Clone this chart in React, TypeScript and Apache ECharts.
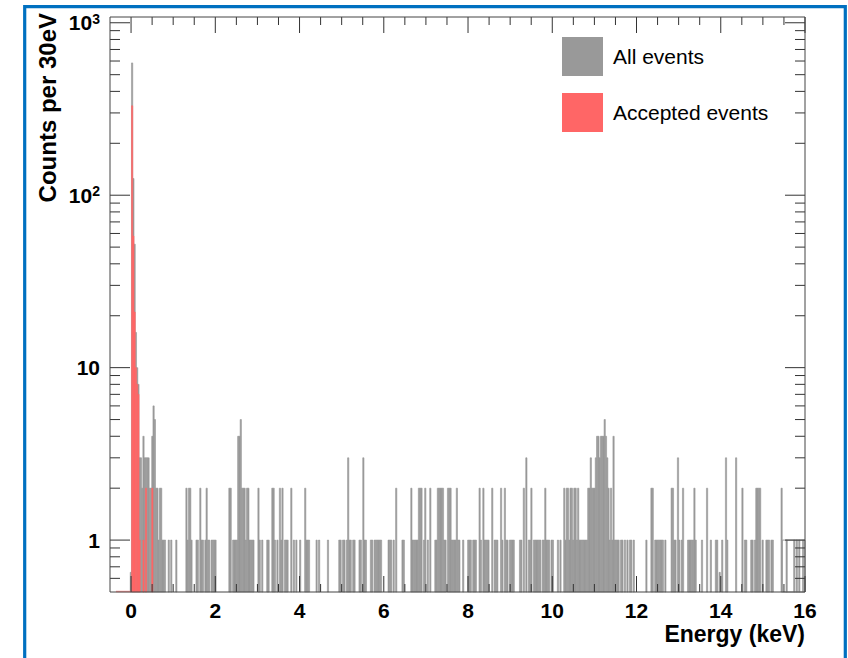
import { useEffect, useRef } from 'react';
import * as echarts from 'echarts';

const FONT = '"Liberation Sans", Arial, Helvetica, sans-serif';
const GRAY = '#999999';
const RED = '#ff6666';
const BLUE = '#0070c0';

// Histogram binning (30 eV bins)
const HIST_MIN = -0.5;
const BIN_WIDTH = 0.03;

// Axis ranges
const X_MIN = -0.5;
const X_MAX = 16;
const Y_MIN = 0.5;
const Y_MAX = 1080;

// Tick values
const xMajorTicks = [0, 2, 4, 6, 8, 10, 12, 14, 16];
const xMinorTicks = [0.5, 1, 1.5, 2.5, 3, 3.5, 4.5, 5, 5.5, 6.5, 7, 7.5, 8.5, 9, 9.5, 10.5, 11, 11.5, 12.5, 13, 13.5, 14.5, 15, 15.5];
const yMajorTicks = [1, 10, 100, 1000];
const yMinorTicks = [0.6, 0.7, 0.8, 0.9, 2, 3, 4, 5, 6, 7, 8, 9, 20, 30, 40, 50, 60, 70, 80, 90, 200, 300, 400, 500, 600, 700, 800, 900];

// All events: [bin index, counts]
const allEventsBelow3keV = [
  [16, 0.65], [17, 585], [18, 125], [19, 52], [20, 16], [21, 10], [22, 8], [23, 3], [24, 3], [25, 2],
  [26, 4], [27, 3], [28, 3], [29, 3], [30, 3], [31, 2], [32, 2], [33, 4], [34, 6], [35, 5], [36, 2],
  [37, 2], [38, 1], [39, 2], [40, 2], [41, 1], [42, 1], [43, 1], [46, 1], [48, 1], [52, 1], [60, 2],
  [61, 1], [62, 2], [63, 2], [64, 1], [68, 1], [69, 1], [71, 2], [72, 1], [73, 1], [75, 1], [76, 2],
  [77, 1], [78, 1], [80, 1], [81, 1], [82, 1], [83, 1], [94, 2], [95, 2], [97, 1], [98, 1], [99, 1],
  [100, 1], [101, 4], [102, 4], [103, 5], [104, 2], [105, 2], [106, 2], [107, 1], [108, 2], [109, 2],
  [110, 1], [111, 1], [112, 1], [113, 1],
];
const allEvents3to7keV = [
  [117, 2], [118, 1], [120, 1], [124, 1], [125, 1], [128, 2], [129, 2], [130, 1], [132, 1], [134, 2],
  [135, 1], [136, 2], [138, 1], [139, 1], [140, 1], [143, 2], [145, 1], [147, 1], [150, 1], [154, 2],
  [155, 1], [156, 1], [157, 1], [163, 1], [165, 1], [172, 1], [181, 1], [182, 1], [184, 1], [185, 1],
  [187, 1], [188, 3], [189, 1], [190, 1], [192, 1], [193, 1], [197, 1], [198, 1], [200, 3], [201, 1],
  [202, 1], [206, 1], [207, 1], [209, 1], [210, 1], [211, 1], [212, 1], [213, 1], [214, 1], [220, 1],
  [221, 1], [222, 1], [224, 1], [226, 2], [231, 1], [232, 1], [238, 2], [239, 1], [240, 1], [241, 1],
  [242, 1], [243, 1], [244, 2], [245, 2], [246, 2], [248, 1], [249, 2],
];
const allEvents7to11keV = [
  [251, 1], [253, 2], [257, 1], [258, 1], [259, 2], [260, 2], [261, 2], [262, 2], [263, 2], [264, 1],
  [265, 1], [267, 2], [268, 2], [269, 2], [270, 1], [271, 1], [272, 1], [273, 1], [274, 2], [275, 1],
  [276, 1], [279, 1], [283, 1], [284, 1], [285, 1], [287, 1], [288, 1], [289, 1], [292, 2], [293, 1],
  [295, 2], [296, 1], [297, 1], [298, 1], [299, 1], [302, 2], [304, 1], [305, 1], [306, 1], [309, 2],
  [310, 1], [312, 2], [313, 1], [314, 1], [316, 1], [317, 1], [318, 1], [319, 1], [324, 1], [325, 1],
  [327, 2], [329, 3], [331, 1], [332, 1], [333, 2], [335, 1], [336, 1], [337, 1], [338, 1], [339, 1],
  [340, 1], [342, 1], [343, 1], [344, 2], [345, 1], [346, 1], [347, 1], [349, 1], [350, 1], [354, 1],
  [356, 1], [359, 2], [360, 1], [361, 2], [362, 2], [363, 1], [364, 2], [365, 2], [366, 1], [367, 2],
  [368, 2], [369, 1], [370, 2], [371, 1], [372, 1], [373, 1], [374, 1], [375, 1], [376, 1], [377, 1],
  [378, 2], [379, 2], [380, 3], [381, 2], [382, 2], [383, 2],
];
const allEventsAbove11keV = [
  [384, 3], [385, 4], [386, 4], [387, 3], [388, 4], [389, 4], [390, 4], [391, 5], [392, 4], [393, 3],
  [394, 2], [395, 1], [396, 2], [397, 1], [398, 4], [399, 1], [400, 1], [401, 1], [402, 1], [404, 1],
  [405, 1], [407, 1], [409, 1], [411, 1], [412, 1], [414, 1], [424, 1], [428, 2], [429, 2], [431, 1],
  [432, 1], [433, 1], [434, 1], [435, 1], [436, 1], [437, 1], [439, 1], [444, 2], [445, 2], [446, 1],
  [447, 1], [449, 3], [450, 1], [452, 1], [453, 2], [457, 1], [458, 1], [459, 1], [460, 1], [461, 1],
  [462, 2], [463, 1], [468, 1], [472, 2], [475, 1], [479, 1], [480, 1], [482, 0.65], [484, 1], [487, 3],
  [488, 1], [495, 3], [500, 2], [502, 1], [503, 1], [507, 1], [508, 1], [510, 1], [511, 2], [512, 2],
  [513, 2], [514, 2], [516, 1], [519, 1], [520, 1], [521, 1], [523, 1], [524, 1], [531, 2], [535, 1],
  [541, 1], [543, 1], [545, 1], [548, 1],
];
// Unfilled outline at the end of the spectrum: [first bin, last bin + 1, level]
const allEventsOutline = [532, 550, 1];

// Accepted events: [bin index, counts]
const acceptedEvents = [
  [17, 330], [18, 58], [19, 21], [20, 10], [21, 8], [22, 7], [23, 1], [26, 1], [28, 2], [33, 2],
];
// Zero-level outline of the accepted histogram (keV)
const acceptedZeroLine = [-0.36, 0];

const toPoints = (pairs: number[][]) => pairs.map(([k, n]) => [HIST_MIN + k * BIN_WIDTH, n]);

function barItem(color: string, strokeWidth: number) {
  return (_params: any, api: any) => {
    const lo = api.value(0);
    const n = api.value(1);
    const a = api.coord([lo, n]);
    const b = api.coord([lo + BIN_WIDTH, Y_MIN]);
    return {
      type: 'rect',
      shape: { x: a[0], y: a[1], width: b[0] - a[0], height: b[1] - a[1] },
      style: { fill: color, stroke: color, lineWidth: strokeWidth },
      silent: true,
    };
  };
}

const TICK_COLOR = '#333';

function xTickItem(_params: any, api: any) {
  const v = api.value(0);
  const len = api.value(2) ? 16 : 8;
  const b = api.coord([v, Y_MIN]);
  const t = api.coord([v, Y_MAX]);
  return {
    type: 'group',
    silent: true,
    children: [
      { type: 'line', shape: { x1: b[0], y1: b[1], x2: b[0], y2: b[1] - len }, style: { stroke: TICK_COLOR, lineWidth: 1 } },
      { type: 'line', shape: { x1: t[0], y1: t[1], x2: t[0], y2: t[1] + len }, style: { stroke: TICK_COLOR, lineWidth: 1 } },
    ],
  };
}

function yTickItem(_params: any, api: any) {
  const v = api.value(1);
  const len = api.value(2) ? 20 : 10;
  const l = api.coord([X_MIN, v]);
  const r = api.coord([X_MAX, v]);
  return {
    type: 'group',
    silent: true,
    children: [
      { type: 'line', shape: { x1: l[0], y1: l[1], x2: l[0] + len, y2: l[1] }, style: { stroke: TICK_COLOR, lineWidth: 1 } },
      { type: 'line', shape: { x1: r[0], y1: r[1], x2: r[0] - len, y2: r[1] }, style: { stroke: TICK_COLOR, lineWidth: 1 } },
    ],
  };
}

function frameItem(_params: any, api: any) {
  const a = api.coord([X_MIN, Y_MAX]);
  const b = api.coord([X_MAX, Y_MIN]);
  return {
    type: 'rect',
    silent: true,
    shape: { x: a[0], y: a[1], width: b[0] - a[0], height: b[1] - a[1] },
    style: { fill: 'none', stroke: '#444', lineWidth: 1 },
  };
}

function outlineItem(_params: any, api: any) {
  const a = api.coord([HIST_MIN + api.value(0) * BIN_WIDTH, api.value(2)]);
  const b = api.coord([HIST_MIN + api.value(1) * BIN_WIDTH, Y_MIN]);
  return {
    type: 'rect',
    silent: true,
    shape: { x: a[0], y: a[1], width: b[0] - a[0], height: b[1] - a[1] },
    style: { fill: 'none', stroke: GRAY, lineWidth: 1 },
  };
}

function zeroLineItem(_params: any, api: any) {
  const a = api.coord([api.value(0), Y_MIN]);
  const b = api.coord([api.value(1), Y_MIN]);
  return {
    type: 'line',
    silent: true,
    shape: { x1: a[0], y1: a[1] - 0.5, x2: b[0], y2: b[1] - 0.5 },
    style: { stroke: '#ff9a9a', lineWidth: 1.5 },
  };
}

const allData = [
  ...toPoints(allEventsBelow3keV),
  ...toPoints(allEvents3to7keV),
  ...toPoints(allEvents7to11keV),
  ...toPoints(allEventsAbove11keV),
];
const acceptedData = toPoints(acceptedEvents);

const option: any = {
  animation: false,
  backgroundColor: '#ffffff',
  grid: { left: 110, top: 17, width: 695, height: 575, show: false },
  legend: {
    data: ['All events', 'Accepted events'],
    orient: 'vertical',
    left: 557,
    top: 32,
    itemWidth: 41,
    itemHeight: 39,
    itemGap: 17,
    icon: 'rect',
    selectedMode: false,
    textStyle: { fontSize: 21, fontFamily: FONT, color: '#000', padding: [0, 0, 0, 5] },
  },
  xAxis: {
    type: 'value',
    min: X_MIN,
    max: X_MAX,
    interval: 0.5,
    axisLine: { show: false },
    axisTick: { show: false },
    splitLine: { show: false },
    axisLabel: {
      interval: 0,
      margin: 10,
      fontSize: 21,
      lineHeight: 16,
      fontWeight: 'bold',
      fontFamily: FONT,
      color: '#000',
      formatter: (v: number) => (Math.abs(v / 2 - Math.round(v / 2)) < 1e-6 ? String(Math.round(v)) : ''),
    },
  },
  yAxis: {
    type: 'log',
    logBase: 10,
    min: Y_MIN,
    max: Y_MAX,
    axisLine: { show: false },
    axisTick: { show: false },
    splitLine: { show: false },
    axisLabel: {
      margin: 10,
      color: '#000',
      formatter: (v: number) => {
        const l = Math.log10(v);
        const r = Math.round(l);
        if (Math.abs(l - r) > 1e-6) return '';
        if (r <= 1) return '{a|' + String(Math.pow(10, r)) + '}';
        return '{a|10}{b|' + r + '}';
      },
      rich: {
        a: { fontSize: 21, fontWeight: 'bold', fontFamily: FONT, color: '#000', lineHeight: 22 },
        b: { fontSize: 14, fontWeight: 'bold', fontFamily: FONT, color: '#000', lineHeight: 14, verticalAlign: 'top' },
      },
    },
  },
  graphic: [
    {
      type: 'rect',
      shape: { x: 24.7, y: 6.7, width: 820.6, height: 700 },
      style: { fill: 'none', stroke: BLUE, lineWidth: 3.2 },
      silent: true,
      z: 100,
    },
    {
      type: 'text',
      x: 47,
      y: 13,
      rotation: Math.PI / 2,
      style: {
        text: 'Counts per 30eV',
        fontSize: 24,
        fontWeight: 'bold',
        fontFamily: FONT,
        fill: '#000',
        align: 'right',
        verticalAlign: 'middle',
        textAlign: 'right',
        textVerticalAlign: 'middle',
      },
    },
    {
      type: 'text',
      x: 805,
      y: 634,
      style: {
        text: 'Energy (keV)',
        fontSize: 23,
        fontWeight: 'bold',
        fontFamily: FONT,
        fill: '#000',
        align: 'right',
        verticalAlign: 'middle',
        textAlign: 'right',
        textVerticalAlign: 'middle',
      },
    },
  ],
  series: [
    {
      type: 'custom',
      name: 'All events',
      coordinateSystem: 'cartesian2d',
      renderItem: barItem(GRAY, 0.6),
      itemStyle: { color: GRAY },
      data: allData,
      z: 2,
    },
    {
      type: 'custom',
      name: 'All events',
      coordinateSystem: 'cartesian2d',
      renderItem: outlineItem,
      itemStyle: { color: GRAY },
      data: [allEventsOutline],
      encode: { x: 0, y: 2 },
      z: 2,
    },
    {
      type: 'custom',
      name: 'Accepted events',
      coordinateSystem: 'cartesian2d',
      renderItem: barItem(RED, 0.5),
      itemStyle: { color: RED },
      data: acceptedData,
      z: 3,
    },
    {
      type: 'custom',
      coordinateSystem: 'cartesian2d',
      renderItem: zeroLineItem,
      data: [acceptedZeroLine],
      encode: { x: 0 },
      z: 3,
    },
    {
      type: 'custom',
      coordinateSystem: 'cartesian2d',
      renderItem: xTickItem,
      data: [...xMajorTicks.map((v) => [v, Y_MIN, 1]), ...xMinorTicks.map((v) => [v, Y_MIN, 0])],
      z: 5,
    },
    {
      type: 'custom',
      coordinateSystem: 'cartesian2d',
      renderItem: yTickItem,
      data: [...yMajorTicks.map((v) => [X_MIN, v, 1]), ...yMinorTicks.map((v) => [X_MIN, v, 0])],
      z: 5,
    },
    {
      type: 'custom',
      coordinateSystem: 'cartesian2d',
      renderItem: frameItem,
      data: [[X_MIN, Y_MAX]],
      z: 6,
    },
  ],
};

export default function App() {
  const ref = useRef<HTMLDivElement>(null);
  useEffect(() => {
    const chart = echarts.init(ref.current as HTMLDivElement, null, { renderer: 'svg' });
    chart.setOption(option);
    return () => chart.dispose();
  }, []);
  return (
    <div
      ref={ref}
      style={{ position: 'fixed', left: 0, top: 0, width: 848, height: 658, background: '#ffffff' }}
    />
  );
}
